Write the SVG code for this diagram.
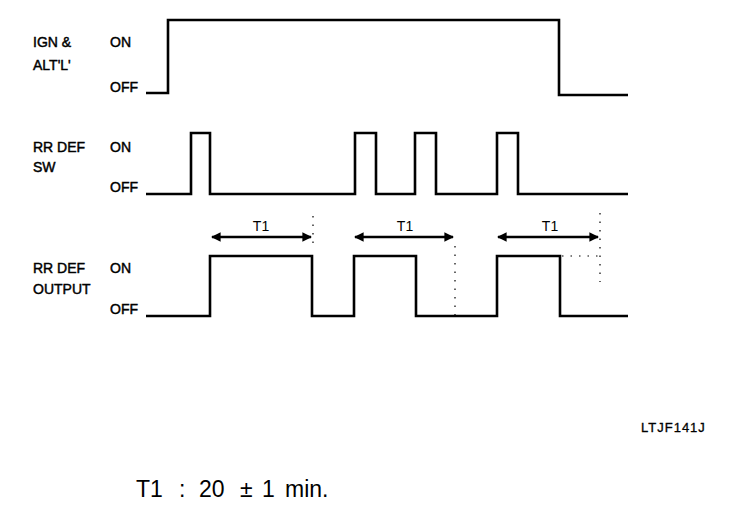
<svg xmlns="http://www.w3.org/2000/svg" width="752" height="522" viewBox="0 0 752 522">
<defs>
<marker id="ah" viewBox="0 0 10 10" refX="9" refY="5" markerWidth="5.5" markerHeight="4" orient="auto-start-reverse" markerUnits="strokeWidth">
<path d="M0,0 L10,5 L0,10 z" fill="#000"/>
</marker>
</defs>
<style>
.lbl{font-family:"Liberation Sans",Arial,sans-serif;font-size:14px;fill:#000;stroke:#000;stroke-width:0.45}
.tl{font-family:"Liberation Sans",Arial,sans-serif;font-size:14px;fill:#000}
.wave{fill:none;stroke:#000;stroke-width:2.6;stroke-linejoin:miter}
.arr{stroke:#000;stroke-width:2.4;marker-start:url(#ah);marker-end:url(#ah)}
.dot{fill:none;stroke:#000;stroke-width:1.2;stroke-dasharray:1.5 7}
</style>
<rect width="752" height="522" fill="#fff"/>
<g id="labels-ign">
<text class="lbl" x="33" y="47">IGN &amp;</text>
<text class="lbl" x="33" y="70">ALT'L'</text>
<text class="lbl" x="110" y="47">ON</text>
<text class="lbl" x="110" y="92">OFF</text>
</g>
<g id="labels-sw">
<text class="lbl" x="33" y="152">RR DEF</text>
<text class="lbl" x="33" y="172">SW</text>
<text class="lbl" x="110" y="152">ON</text>
<text class="lbl" x="110" y="192">OFF</text>
</g>
<g id="labels-out">
<text class="lbl" x="33" y="273">RR DEF</text>
<text class="lbl" x="33" y="294">OUTPUT</text>
<text class="lbl" x="110" y="273">ON</text>
<text class="lbl" x="110" y="314">OFF</text>
</g>
<g id="wave-ign">
<path class="wave" stroke-width="3" d="M146,93 H168 V20 H559 V95 H628"/>
</g>
<g id="wave-sw">
<path class="wave" d="M146,194 H191 V133 H210 V194 H355 V133 H376 V194 H415 V133 H436 V194 H497 V133 H518 V194 H628"/>
</g>
<g id="wave-out">
<path class="wave" d="M146,316 H210 V256 H312 V316 H354 V256 H416 V316 H497 V256 H560 V316 H628"/>
</g>
<g id="connectors">
<line class="arr" x1="212" y1="237" x2="311" y2="237"/>
<line class="arr" x1="355" y1="237" x2="453" y2="237"/>
<line class="arr" x1="498" y1="237" x2="598" y2="237"/>
<path class="dot" d="M313,216 V248"/>
<path class="dot" d="M455,246 V316"/>
<path class="dot" d="M600,213 V282 M562,256 H600"/>
</g>
<g id="t1-labels">
<text class="tl" x="261" y="231" text-anchor="middle">T1</text>
<text class="tl" x="405" y="231" text-anchor="middle">T1</text>
<text class="tl" x="550" y="231" text-anchor="middle">T1</text>
</g>
<text id="code" x="641" y="432" font-family="'Liberation Sans',Arial,sans-serif" font-size="13" letter-spacing="1" fill="#000" stroke="#000" stroke-width="0.3">LTJF141J</text>
<text id="note" y="497" font-family="'Liberation Sans',Arial,sans-serif" font-size="23" fill="#000"><tspan x="136">T1</tspan><tspan x="179">:</tspan><tspan x="199">20</tspan><tspan x="240">±</tspan><tspan x="262">1</tspan><tspan x="285">min.</tspan></text>
</svg>
